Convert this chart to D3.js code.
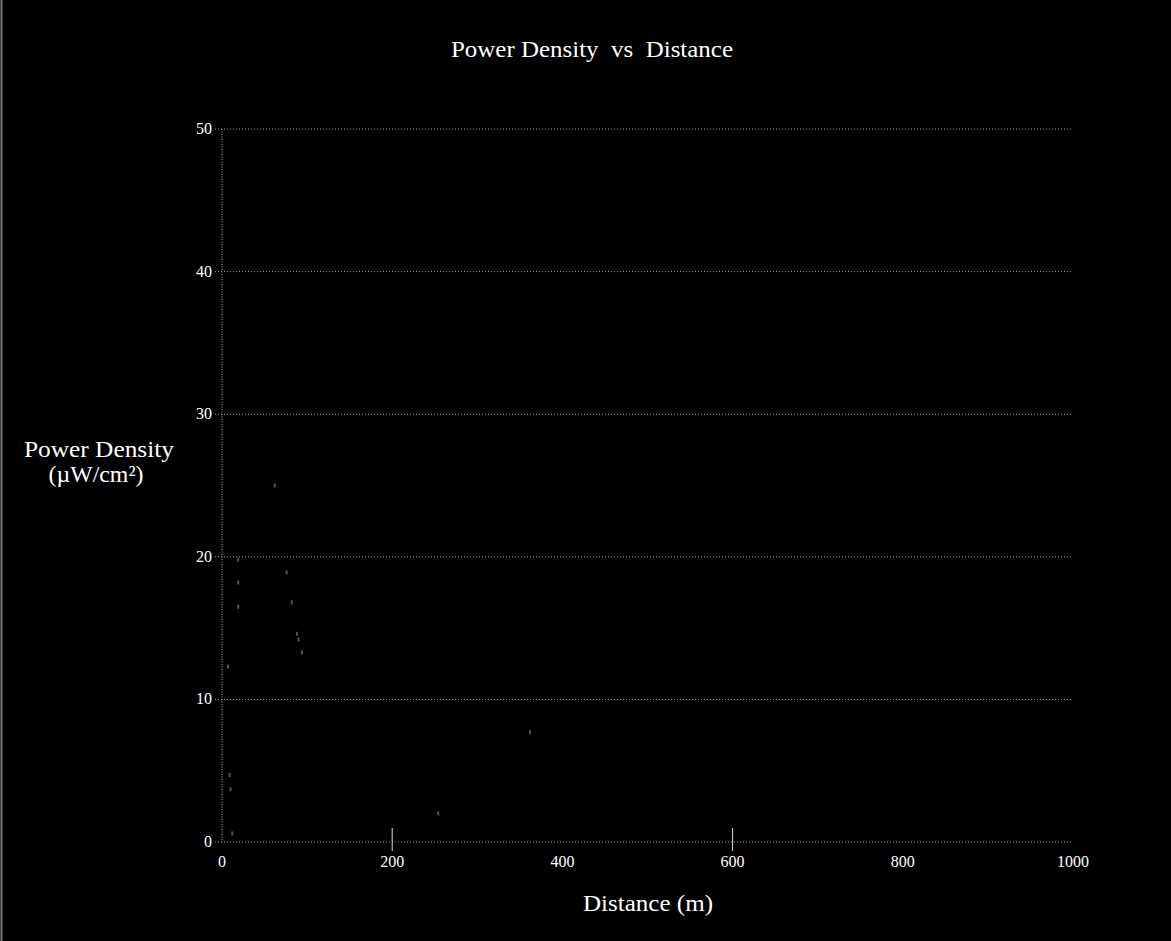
<!DOCTYPE html>
<html>
<head>
<meta charset="utf-8">
<script src="https://cdn.jsdelivr.net/npm/d3@7/dist/d3.min.js"></script>
<style>
  body { margin: 0; background: #000; }
  svg text { font-family: "Liberation Serif", "DejaVu Serif", serif; fill: #fff; white-space: pre; }
</style>
</head>
<body>
<svg id="chart" width="1171" height="941"></svg>
<script>
var distance = [7, 9, 10, 12, 19, 19, 19, 62, 76, 82, 88, 90, 94, 254, 362];
var density  = [12.3, 4.7, 3.7, 0.6, 19.8, 18.2, 16.5, 25.0, 18.9, 16.8, 14.6, 14.2, 13.3, 2.0, 7.7];
var xTicks = [0, 200, 400, 600, 800, 1000];
var yTicks = [0, 10, 20, 30, 40, 50];
var markedTicks = [200, 600];   // the only tick marks still visible in the scan

var W = 1171, H = 941;
var margin = {left: 222, right: 98, top: 129, bottom: 99};

var svg = d3.select("#chart");
svg.append("rect").attr("width", W).attr("height", H).attr("fill", "#000");

// scanner edge
svg.append("line").attr("x1", 1.5).attr("x2", 1.5).attr("y1", 0).attr("y2", H)
    .attr("stroke", "#777").attr("stroke-width", 2);

var x = d3.scaleLinear().domain([0, 1000]).range([margin.left, W - margin.right]);
var y = d3.scaleLinear().domain([0, 50]).range([H - margin.bottom, margin.top]);

// horizontal grid, dotted
svg.append("g").selectAll("line").data(yTicks).join("line")
    .attr("x1", x(0) - 7).attr("x2", x(1000))
    .attr("y1", function(d){ return y(d); }).attr("y2", function(d){ return y(d); })
    .attr("stroke", "#9a9a9a").attr("stroke-width", 1)
    .attr("stroke-dasharray", "1,2");

// left axis, dotted
svg.append("line").attr("x1", x(0)).attr("x2", x(0)).attr("y1", y(50)).attr("y2", y(0))
    .attr("stroke", "#b0b0b0").attr("stroke-dasharray", "1,1.5");

// y tick labels
svg.append("g").selectAll("text").data(yTicks).join("text")
    .attr("x", x(0) - 10).attr("y", function(d){ return y(d) + 5; })
    .attr("text-anchor", "end").style("font-size", "16px")
    .text(function(d){ return d; });

// x ticks
svg.append("g").selectAll("line").data(markedTicks).join("line")
    .attr("x1", function(d){ return x(d); }).attr("x2", function(d){ return x(d); })
    .attr("y1", y(0) - 14).attr("y2", y(0) + 9)
    .attr("stroke", "#ddd").attr("stroke-width", 1);

svg.append("g").selectAll("text").data(xTicks).join("text")
    .attr("x", function(d){ return x(d); }).attr("y", y(0) + 25)
    .attr("text-anchor", "middle").style("font-size", "16px")
    .text(function(d){ return d; });

// measured points: only faint fragments survive in the scan
svg.append("g").selectAll("rect").data(distance).join("rect")
    .attr("x", function(d){ return x(d) - 1; })
    .attr("y", function(d, i){ return y(density[i]) - 2; })
    .attr("width", 2).attr("height", 4)
    .attr("fill", "#555");

// titles (scan is a little stretched sideways, so widths are pinned)
function label(tx, ty, str, len) {
    svg.append("text").attr("x", tx).attr("y", ty).attr("text-anchor", "middle")
        .style("font-size", "23px")
        .attr("textLength", len).attr("lengthAdjust", "spacingAndGlyphs")
        .text(str);
}
label(592, 57, "Power Density  vs  Distance", 282);
label(99, 457, "Power Density", 150);
label(96, 482, "(\u00b5W/cm\u00b2)", 95);
label(648, 911, "Distance (m)", 130);
</script>
</body>
</html>
